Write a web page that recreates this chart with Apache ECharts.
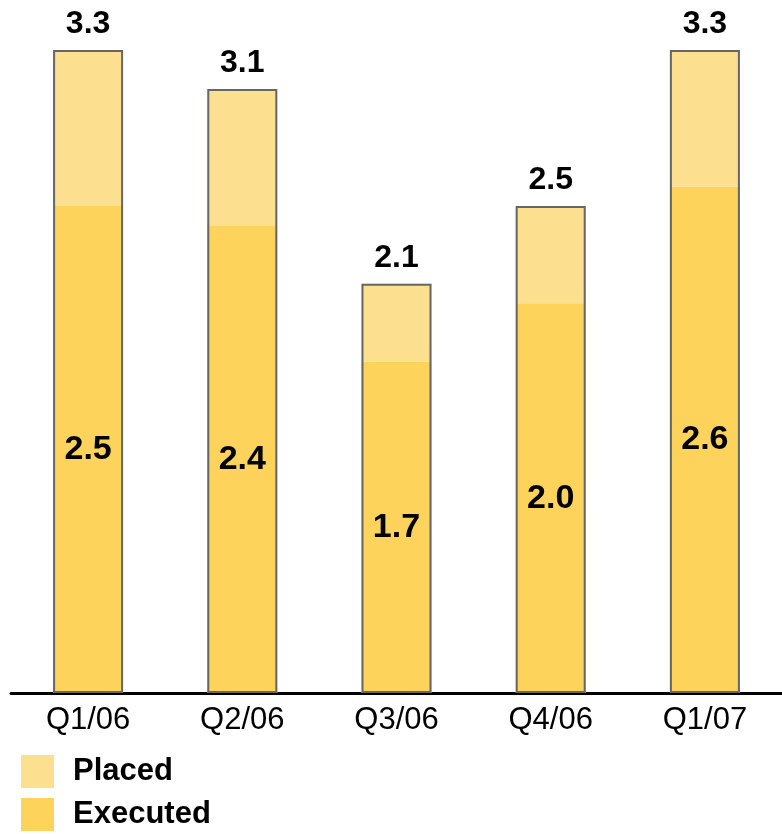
<!DOCTYPE html>
<html><head><meta charset="utf-8">
<script src="https://cdn.jsdelivr.net/npm/echarts@6/dist/echarts.min.js"></script>
<style>html,body{margin:0;padding:0;background:#fff}#c{width:782px;height:834px}</style>
</head><body><div id="c"></div>
<script>
const categories = ['Q1/06','Q2/06','Q3/06','Q4/06','Q1/07'];
const executed = [2.5, 2.4, 1.7, 2.0, 2.6];
const placed = [0.8, 0.7, 0.4, 0.5, 0.7];
const totals = [3.3, 3.1, 2.1, 2.5, 3.3];

const chart = echarts.init(document.getElementById('c'));
const font = 'Arial, "Liberation Sans", sans-serif';
chart.setOption({
  animation: false,
  textStyle: { fontFamily: font },
  grid: { left: 11, right: -4, top: 50, bottom: 141 },
  legend: {
    data: ['Placed', 'Executed'],
    orient: 'vertical', left: 21, top: 755, padding: 0,
    itemWidth: 33, itemHeight: 33, itemGap: 10,
    icon: 'rect',
    textStyle: { fontSize: 31, fontWeight: 'bold', color: '#000', fontFamily: font, lineHeight: 33, padding: [0, 0, 0, 14] }
  },
  xAxis: {
    type: 'category', data: categories,
    axisLine: { lineStyle: { color: '#000', width: 3 } },
    axisTick: { show: false },
    axisLabel: { fontSize: 31, color: '#000', margin: 12, fontFamily: font }
  },
  yAxis: { type: 'value', min: 0, max: 3.3, show: false, splitLine: { show: false } },
  series: [
    { name: 'Executed', type: 'bar', stack: 'a', data: executed, barWidth: 70,
      itemStyle: { color: '#FDD35B' },
      label: { show: true, position: 'inside', fontSize: 34, fontWeight: 'bold', color: '#000', fontFamily: font, formatter: p => p.value.toFixed(1) } },
    { name: 'Placed', type: 'bar', stack: 'a', data: placed, barWidth: 70,
      itemStyle: { color: '#FDE08F' } },
    { name: 'Total', type: 'bar', data: totals, barWidth: 70, barGap: '-100%', z: 5,
      itemStyle: { color: 'rgba(0,0,0,0)', borderColor: '#666', borderWidth: 2 },
      label: { show: true, position: 'top', distance: 10, fontSize: 32, fontWeight: 'bold', color: '#000', fontFamily: font, formatter: p => p.value.toFixed(1) } }
  ]
});
</script></body></html>
